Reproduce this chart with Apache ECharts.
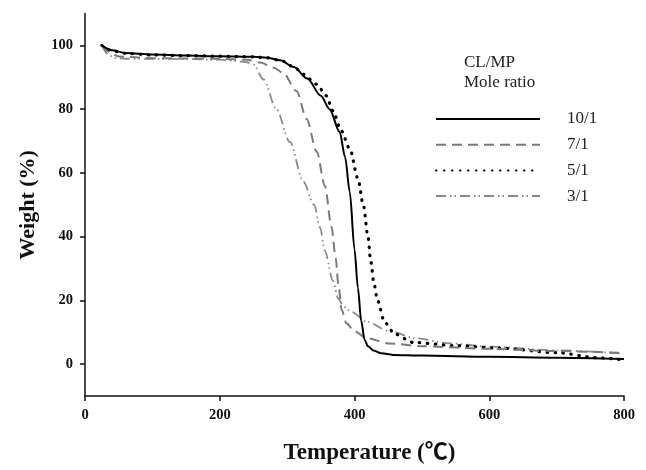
<!DOCTYPE html>
<html>
<head>
<meta charset="utf-8">
<script src="https://cdn.jsdelivr.net/npm/echarts@6/dist/echarts.min.js"></script>
<style>html,body{margin:0;padding:0;background:#fff}#c{width:646px;height:470px}</style>
</head>
<body>
<div id="c"></div>
<script>
var seriesNames = ['10/1', '7/1', '5/1', '3/1'];
var yTicks = [0, 20, 40, 60, 80, 100];

var temps10 = [25, 40, 60, 100, 150, 200, 250, 270, 290, 310, 330, 350, 363, 378, 386, 393, 400, 405, 410, 415, 420, 428, 440, 457, 500, 600, 700, 800];
var w10 = [100, 98.5, 97.6, 97.1, 96.8, 96.6, 96.4, 96.1, 95.3, 93.2, 89.6, 84.2, 80, 72.8, 65, 54, 36, 24, 13.5, 7.6, 5.6, 4.3, 3.4, 2.9, 2.7, 2.3, 2.0, 1.6];

var temps7 = [25, 35, 50, 100, 150, 200, 240, 260, 280, 294, 314, 329, 344, 356, 366, 372, 376, 381, 388, 400, 418, 452, 500, 600, 700, 800];
var w7 = [100, 98, 96.5, 96, 95.9, 95.8, 95.5, 94.6, 93, 91.4, 85.7, 76.9, 66.6, 56, 43, 33.4, 25.2, 17, 12.8, 10.3, 8.1, 6.5, 5.6, 4.8, 4.1, 3.5];

var temps5 = [25, 40, 60, 100, 150, 200, 250, 270, 290, 310, 324, 344, 358, 368, 380, 393, 405, 413, 420, 424, 429, 434, 445, 460, 487, 550, 616, 700, 760, 800];
var w5 = [100, 98.3, 97.5, 97, 96.8, 96.6, 96.4, 96.1, 95.3, 93.3, 90.9, 87.8, 84.2, 79.5, 73.3, 67.6, 58.3, 50, 40, 32.4, 25.2, 20, 13, 9.4, 6.8, 5.8, 5, 3.6, 2.0, 1.3];

var temps3 = [25, 35, 45, 60, 100, 150, 200, 225, 240, 250, 265, 284, 304, 324, 340, 349, 356, 368, 376, 384, 396, 418, 452, 492, 541, 600, 700, 800];
var w3 = [100, 97, 96, 95.8, 95.8, 95.7, 95.5, 95.1, 94.7, 94, 89.3, 80, 69.7, 57.3, 50, 42.8, 35.5, 26.2, 20.5, 18, 16.3, 13.3, 10.3, 8.1, 6.5, 5.5, 4.3, 3.3];

function pairs(t, w) { return t.map(function (v, i) { return [v, w[i]]; }); }

var serif = "'Liberation Serif', 'Times New Roman', 'Noto Sans CJK SC', serif";
var chart = echarts.init(document.getElementById('c'), null, { renderer: 'canvas' });

var styles = [
  { color: '#000000', width: 2, type: 'solid', cap: 'butt' },
  { color: '#7a7a7a', width: 2, type: [10, 6], cap: 'butt' },
  { color: '#000000', width: 3.2, type: [0.5, 7.5], cap: 'round' },
  { color: '#8a8a8a', width: 1.8, type: [10, 4, 1.5, 3, 1.5, 4], cap: 'butt' }
];
var datas = [pairs(temps10, w10), pairs(temps7, w7), pairs(temps5, w5), pairs(temps3, w3)];

chart.setOption({
  animation: false,
  backgroundColor: '#fff',
  title: {
    text: 'CL/MP\nMole ratio',
    left: 464, top: 53, padding: 0,
    textStyle: { fontFamily: serif, fontSize: 17, fontWeight: 'normal', color: '#222', lineHeight: 20 }
  },
  legend: {
    orient: 'vertical', left: 435, top: 110.5, padding: 0,
    itemWidth: 104, itemHeight: 14, itemGap: 8.7,
    data: seriesNames,
    itemStyle: { opacity: 0 },
    formatter: '{a|{name}}',
    textStyle: { fontFamily: serif, fontSize: 17, color: '#222',
      rich: { a: { fontFamily: serif, fontSize: 17, color: '#222', padding: [0, 0, 0, 22] } } }
  },
  grid: { left: 85, right: 22, top: 13.5, bottom: 70.7 },
  xAxis: {
    type: 'value', min: 0, max: 800, interval: 200,
    name: 'Temperature (℃)', nameLocation: 'middle', nameGap: 46,
    nameTextStyle: { fontFamily: serif, fontSize: 23, fontWeight: 'bold', color: '#111', padding: [0, 0, 0, 30] },
    axisLine: { onZero: false, lineStyle: { color: '#111', width: 1.5 } },
    axisTick: { show: true, length: 5, lineStyle: { color: '#111', width: 1.5 } },
    axisLabel: { margin: 12, fontFamily: serif, fontSize: 14.5, fontWeight: 'bold', color: '#111' },
    splitLine: { show: false }
  },
  yAxis: {
    type: 'value', min: -10, max: 110,
    name: 'Weight (%)', nameLocation: 'middle', nameGap: 46, nameRotate: 90,
    nameTextStyle: { fontFamily: serif, fontSize: 22, fontWeight: 'bold', color: '#111' },
    axisLine: { show: true, onZero: false, lineStyle: { color: '#111', width: 1.5 } },
    axisTick: { show: true, length: 5, customValues: yTicks, lineStyle: { color: '#111', width: 1.5 } },
    axisLabel: { margin: 12, customValues: yTicks, fontFamily: serif, fontSize: 14.5, fontWeight: 'bold', color: '#111' },
    splitLine: { show: false }
  },
  series: seriesNames.map(function (n, i) {
    return {
      name: n, type: 'line', data: datas[i], symbol: 'none', showSymbol: false,
      smooth: 0.3, smoothMonotone: 'x',
      lineStyle: styles[i], itemStyle: { color: styles[i].color },
      z: 4 - i
    };
  })
});
</script>
</body>
</html>
